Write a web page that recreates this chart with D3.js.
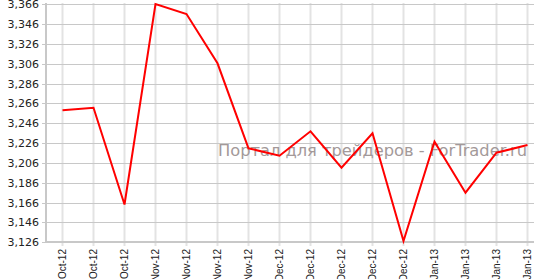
<!DOCTYPE html>
<html>
<head>
<meta charset="utf-8">
<script src="https://cdnjs.cloudflare.com/ajax/libs/d3/7.8.5/d3.min.js"></script>
<style>
	html,body	{ margin:0; padding:0; background:#fff; }
	svg				{ display:block; }
	text			{ font-family:"DejaVu Sans", Verdana, sans-serif; }
	.axis-x text	{ font-family:"Liberation Sans", Arial, sans-serif; }
</style>
</head>
<body>
<div class="content-chart"></div>
<script>

var dates		= ['Oct-12','Oct-12','Oct-12','Nov-12','Nov-12','Nov-12','Nov-12','Dec-12','Dec-12','Dec-12','Dec-12','Dec-12','Jan-13','Jan-13','Jan-13','Jan-13'];
var values	= [3259.1, 3261.7, 3164.1, 3366.3, 3356.2, 3306.5, 3220.8, 3213.3, 3237.9, 3201.2, 3235.9, 3127.3, 3227.4, 3176.0, 3216.3, 3224.1];
var yTickValues	= [3126, 3146, 3166, 3186, 3206, 3226, 3246, 3266, 3286, 3306, 3326, 3346, 3366];
var watermark	= 'Портал для трейдеров - ForTrader.ru';


//------------------------------------------------------------------
//
//------------------------------------------------------------------
function vizChart()	{

	var W		= 534,
			H		= 279,
			left	= 46,
			right	= 534,
			top	= 3,
			bot	= 242,
			idx	= d3.range(dates.length),
			x		= d3.scalePoint().domain(idx).range([62.5, 527.5]),
			y		= d3.scaleLinear().domain([3126,3366]).range([242.3,4.3]),
			fmt	= d3.format(',d');

	var svg = d3.select('.content-chart')
		.append('svg')
			.attr('width',W)
			.attr('height',H);

	// vertical grid
	svg.append('g')
		.attr('class','grid-x')
		.call(sel=>{
			sel.selectAll('line').data(idx)
				.enter()
					.append('line')
						.attr('x1',d=>x(d))
						.attr('x2',d=>x(d))
						.attr('y1',top)
						.attr('y2',bot+4)
						.attr('stroke','#e3e3e3')
						.attr('stroke-width',2);
		});

	// horizontal grid
	svg.append('g')
		.attr('class','grid-y')
		.call(sel=>{
			sel.selectAll('line').data(yTickValues)
				.enter()
					.append('line')
						.attr('x1',left-4)
						.attr('x2',right)
						.attr('y1',d=>Math.round(y(d))+0.5)
						.attr('y2',d=>Math.round(y(d))+0.5)
						.attr('stroke','#c8c8c8')
						.attr('stroke-width',1);
		});

	// axis lines
	svg.append('line')
		.attr('x1',left).attr('x2',left)
		.attr('y1',top).attr('y2',bot+1)
		.attr('stroke','#c8c8c8').attr('stroke-width',2);

	svg.append('line')
		.attr('x1',left).attr('x2',right)
		.attr('y1',bot).attr('y2',bot)
		.attr('stroke','#c8c8c8').attr('stroke-width',2);

	// y labels
	svg.append('g')
		.attr('class','axis-y')
		.call(sel=>{
			sel.selectAll('text').data(yTickValues)
				.enter()
					.append('text')
						.attr('x',39)
						.attr('y',d=>y(d))
						.attr('dy','0.36em')
						.attr('text-anchor','end')
						.attr('font-size','11px')
						.attr('fill','#222')
						.text(d=>fmt(d));
		});

	// x labels
	svg.append('g')
		.attr('class','axis-x')
		.call(sel=>{
			sel.selectAll('text').data(idx)
				.enter()
					.append('text')
						.attr('transform',d=>'translate('+x(d)+',249) rotate(-90)')
						.attr('dy','0.36em')
						.attr('text-anchor','end')
						.attr('font-size','10px')
						.attr('fill','#222')
						.text(d=>dates[d]);
		});

	// watermark
	svg.append('text')
		.attr('x',218)
		.attr('y',155.5)
		.attr('font-size','16px')
		.attr('fill','#a39999')
		.attr('textLength',309)
		.attr('lengthAdjust','spacingAndGlyphs')
		.text(watermark);

	// series
	var line = d3.line()
		.x(d=>x(d))
		.y(d=>y(values[d]));

	svg.append('path')
		.datum(idx)
		.attr('d',line)
		.attr('fill','none')
		.attr('stroke','#ff0000')
		.attr('stroke-width',2)
		.attr('stroke-linejoin','miter');

}

vizChart();

</script>
</body>
</html>
